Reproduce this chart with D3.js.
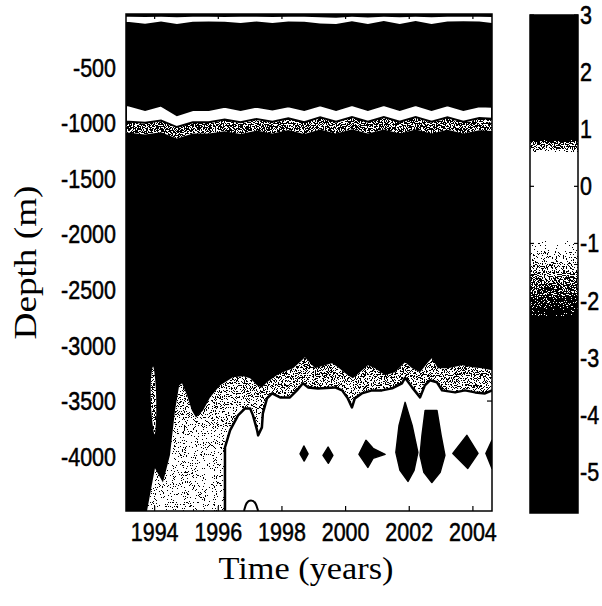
<!DOCTYPE html>
<html>
<head>
<meta charset="utf-8">
<script src="https://cdn.jsdelivr.net/npm/d3@7"></script>
<style>
  body { margin: 0; background: #fff; }
  svg { display: block; }
</style>
</head>
<body>
<svg id="chart" width="602" height="606"></svg>
<script>

// axes
var timeDomain = [1993.1, 2004.6];
var depthDomain = [-15, -4490];
var yearTicks = [1994, 1996, 1998, 2000, 2002, 2004];
var depthTicks = [-500, -1000, -1500, -2000, -2500, -3000, -3500, -4000];
var cbDomain = [3, -5.72];
var cbTicks = [3, 2, 1, 0, -1, -2, -3, -4, -5];

// colour bar shades (value -> grey)
var cbStopValue = [3, 0.82, 0.76, 0.64, 0.58, -0.85, -1.0, -1.35, -1.65, -1.95, -2.3, -5.72];
var cbStopShade = ['#000', '#000', '#6a6a6a', '#8a8a8a', '#fff', '#fff', '#dedede', '#a4a4a4', '#6c6c6c', '#383838', '#000', '#000'];

// upper zero-crossing bands, sampled in time
var bandTime = [1993.1, 1993.2, 1993.7, 1994.2, 1994.7, 1995.2, 1995.7, 1996.2, 1996.7, 1997.2, 1997.7, 1998.2, 1998.7,
                1999.2, 1999.7, 2000.2, 2000.7, 2001.2, 2001.7, 2002.2, 2002.7, 2003.2, 2003.7, 2004.2, 2004.6];
var surfTop    = [-40, -40, -42, -40, -44, -40, -40, -42, -40, -40, -42, -40, -40, -45, -48, -40, -46, -40, -44, -40, -45, -40, -40, -40, -42];
var surfBottom = [-87, -87, -103, -82, -105, -84, -83, -85, -97, -83, -97, -83, -84, -100, -104, -80, -104, -78, -104, -78, -104, -82, -80, -82, -96];
var midTop     = [-835, -840, -880, -840, -925, -880, -880, -850, -880, -850, -875, -845, -880, -838, -880, -835, -880, -835, -880, -835, -880, -838, -878, -845, -850];
var midBottom  = [-985, -985, -995, -975, -1033, -990, -990, -965, -990, -960, -985, -955, -990, -945, -985, -942, -985, -942, -985, -942, -985, -945, -985, -952, -958];
var midGray    = [-1085, -1085, -1100, -1080, -1135, -1090, -1090, -1070, -1095, -1065, -1090, -1060, -1095, -1055, -1090, -1052, -1092, -1055, -1090, -1055, -1092, -1058, -1090, -1062, -1068];

// deep water: top of the grey zone
var grayEdgeTime  = [1993.76, 1994.01, 1994.26, 1994.48, 1994.64, 1994.77, 1994.86, 1995.02, 1995.17, 1995.30, 1995.52, 1995.74,
                     1996.05, 1996.46, 1996.78, 1997.0, 1997.22, 1997.37, 1997.53, 1997.84, 1998.03, 1998.35, 1998.63, 1998.72,
                     1999.04, 1999.35, 1999.57, 1999.76, 2000.07, 2000.23, 2000.45, 2000.70, 2000.92, 2001.24, 2001.55, 2001.87,
                     2002.09, 2002.34, 2002.59, 2002.71, 2002.90, 2003.22, 2003.66, 2003.97, 2004.28, 2004.6];
var grayEdgeDepth = [-4490, -4106, -4233, -3989, -3584, -3359, -3340, -3449, -3584, -3647, -3584, -3467,
                     -3359, -3286, -3277, -3295, -3359, -3377, -3331, -3268, -3241, -3205, -3133, -3106,
                     -3205, -3178, -3160, -3196, -3268, -3295, -3241, -3178, -3205, -3268, -3241, -3151,
                     -3205, -3241, -3151, -3115, -3205, -3205, -3178, -3196, -3205, -3223];

// deep water: contour round the near-zero zone
var whiteEdgeTime  = [1996.21, 1996.21, 1996.37, 1996.62, 1996.84, 1997.0, 1997.09, 1997.22, 1997.25, 1997.37, 1997.40, 1997.53,
                      1997.69, 1997.94, 1998.25, 1998.47, 1998.66, 1998.82, 1999.13, 1999.67, 1999.89, 2000.07, 2000.20, 2000.29,
                      2000.51, 2000.83, 2001.14, 2001.46, 2001.77, 2001.87, 2002.09, 2002.34, 2002.49, 2002.65, 2002.87, 2003.03,
                      2003.44, 2003.75, 2004.07, 2004.38, 2004.6];
var whiteEdgeDepth = [-4490, -3917, -3764, -3629, -3566, -3566, -3629, -3764, -3809, -3737, -3611, -3476,
                      -3431, -3467, -3467, -3404, -3340, -3377, -3386, -3377, -3404, -3476, -3557, -3476,
                      -3431, -3404, -3404, -3386, -3340, -3290, -3377, -3467, -3359, -3313, -3331, -3404,
                      -3422, -3404, -3422, -3431, -3404];

// thin grey streak near 1994
var streakTime  = [1993.95, 1994.03, 1994.05, 1994.0, 1993.9, 1993.88];
var streakDepth = [-3190, -3350, -3600, -3800, -3600, -3350];

// dark cores inside the near-zero zone
var blobTime = [
  [1998.57, 1998.69, 1998.82, 1998.70],
  [1999.29, 1999.45, 1999.60, 1999.46],
  [2000.42, 2000.64, 2000.86, 2001.24, 2000.86, 2000.70],
  [2001.87, 2002.09, 2002.27, 2002.15, 2001.96, 2001.71, 2001.58, 2001.68],
  [2002.50, 2002.87, 2003.0, 2003.12, 2002.97, 2002.71, 2002.46, 2002.34, 2002.40],
  [2003.81, 2004.16, 2003.84, 2003.37],
  [2004.6, 2004.79, 2004.6, 2004.41]
];
var blobDepth = [
  [-3975, -3905, -3975, -4040],
  [-3989, -3915, -3989, -4060],
  [-3980, -3854, -3926, -3980, -4016, -4097],
  [-3512, -3719, -3962, -4124, -4223, -4124, -3962, -3719],
  [-3584, -3584, -3809, -3989, -4142, -4233, -4142, -3989, -3809],
  [-3809, -3971, -4106, -3971],
  [-3854, -3971, -4106, -3971]
];
var arcTime  = [1996.81, 1996.87, 1997.03, 1997.18, 1997.25];
var arcDepth = [-4490, -4413, -4386, -4413, -4490];


var svg = d3.select('#chart');
var plot = {left: 126, right: 492, top: 14, bottom: 511};
var bar = {left: 530, right: 578, top: 15, bottom: 513};

var x = d3.scaleLinear().domain(timeDomain).range([plot.left, plot.right]);
var y = d3.scaleLinear().domain(depthDomain).range([plot.top, plot.bottom]);
var cb = d3.scaleLinear().domain(cbDomain).range([bar.top, bar.bottom]);

var tickFont = '"Liberation Sans", Arial, sans-serif';
var titleFont = '"Liberation Serif", "Times New Roman", serif';
var narrow = 0.86;   // tick labels are a narrow face

var defs = svg.append('defs');

defs.append('clipPath').attr('id', 'plotClip')
    .append('rect')
    .attr('x', plot.left).attr('y', plot.top)
    .attr('width', plot.right - plot.left).attr('height', plot.bottom - plot.top);

// halftone look of the scanned grey levels
var f = defs.append('filter').attr('id', 'stipple')
    .attr('filterUnits', 'userSpaceOnUse')
    .attr('x', 0).attr('y', 0).attr('width', 602).attr('height', 606)
    .attr('color-interpolation-filters', 'sRGB');
f.append('feTurbulence').attr('type', 'fractalNoise').attr('baseFrequency', 0.9)
    .attr('numOctaves', 2).attr('seed', 7).attr('result', 'n');
f.append('feColorMatrix').attr('in', 'n').attr('type', 'matrix')
    .attr('values', '2.6 0 0 0 -0.8  2.6 0 0 0 -0.8  2.6 0 0 0 -0.8  0 0 0 0 1')
    .attr('result', 'm0');
var squeeze = f.append('feComponentTransfer').attr('in', 'm0').attr('result', 'm');
['feFuncR', 'feFuncG', 'feFuncB'].forEach(function(fn){
    squeeze.append(fn).attr('type', 'linear').attr('slope', 0.88).attr('intercept', 0.07);
});
f.append('feComposite').attr('in', 'SourceGraphic').attr('in2', 'm')
    .attr('operator', 'arithmetic').attr('k1', 0).attr('k2', 1).attr('k3', -1).attr('k4', 1)
    .attr('result', 'd');
var ct = f.append('feComponentTransfer').attr('in', 'd');
var table = d3.range(20).map(function(i){ return i < 19 ? 0 : 1; }).join(' ');
['feFuncR', 'feFuncG', 'feFuncB'].forEach(function(fn){
    ct.append(fn).attr('type', 'discrete').attr('tableValues', table);
});

var deepGrad = defs.append('linearGradient').attr('id', 'deepShade')
    .attr('gradientUnits', 'userSpaceOnUse')
    .attr('x1', 0).attr('x2', 0).attr('y1', y(-3150)).attr('y2', y(-3850));
deepGrad.append('stop').attr('offset', 0).attr('stop-color', '#7c7c7c');
deepGrad.append('stop').attr('offset', 1).attr('stop-color', '#c8c8c8');

var cbGrad = defs.append('linearGradient').attr('id', 'cbShade')
    .attr('gradientUnits', 'userSpaceOnUse')
    .attr('x1', 0).attr('x2', 0).attr('y1', cb(cbDomain[0])).attr('y2', cb(cbDomain[1]));
cbGrad.selectAll('stop')
    .data(cbStopValue).enter()
    .append('stop')
    .attr('offset', function(v){ return (cb(v) - cb(cbDomain[0])) / (cb(cbDomain[1]) - cb(cbDomain[0])); })
    .attr('stop-color', function(v, i){ return cbStopShade[i]; });

function pts(ts, ds) {
    return ts.map(function(t, i){ return [x(t), y(ds[i])]; });
}
var line = d3.line();
function poly(p) { return line(p) + 'Z'; }

// ---- field
var field = svg.append('g').attr('clip-path', 'url(#plotClip)');

field.append('rect')
    .attr('x', plot.left).attr('y', plot.top)
    .attr('width', plot.right - plot.left).attr('height', plot.bottom - plot.top)
    .attr('fill', '#000');

var greys = field.append('g').attr('filter', 'url(#stipple)');

var bandArea = function(lo, hi) {
    return d3.area()
        .x(function(d, i){ return x(bandTime[i]); })
        .y0(function(d, i){ return y(lo[i]); })
        .y1(function(d, i){ return y(hi[i]); })(bandTime);
};

greys.append('path')
    .attr('d', bandArea(midGray, midBottom))
    .attr('fill', '#6a6a6a');

var deep = pts(grayEdgeTime, grayEdgeDepth);
deep.push([plot.right + 4, y(grayEdgeDepth[grayEdgeDepth.length - 1])]);
deep.push([plot.right + 4, plot.bottom + 4]);
deep.push([x(grayEdgeTime[0]), plot.bottom + 4]);
greys.append('path')
    .attr('d', poly(deep))
    .attr('fill', 'url(#deepShade)');

greys.append('path')
    .attr('d', d3.line().curve(d3.curveCardinalClosed)(pts(streakTime, streakDepth)))
    .attr('fill', '#8a8a8a');

field.append('path')
    .attr('d', bandArea(surfBottom, surfTop))
    .attr('fill', '#fff');

field.append('path')
    .attr('d', bandArea(midBottom, midTop))
    .attr('fill', '#fff')
    .attr('stroke', '#000')
    .attr('stroke-width', 2);

var white = pts(whiteEdgeTime, whiteEdgeDepth);
white.push([plot.right + 4, y(whiteEdgeDepth[whiteEdgeDepth.length - 1])]);
white.push([plot.right + 4, plot.bottom + 4]);
white[0][1] = plot.bottom + 4;
field.append('path')
    .attr('d', poly(white))
    .attr('fill', '#fff')
    .attr('stroke', '#000')
    .attr('stroke-width', 2.5)
    .attr('stroke-linejoin', 'round');

field.selectAll('.blob')
    .data(blobTime).enter()
    .append('path')
    .attr('class', 'blob')
    .attr('d', function(ts, k){ return poly(pts(ts, blobDepth[k])); })
    .attr('fill', '#000')
    .attr('stroke', '#000')
    .attr('stroke-width', 1.5)
    .attr('stroke-linejoin', 'round');

field.append('path')
    .attr('d', d3.line().curve(d3.curveBasis)(pts(arcTime, arcDepth)))
    .attr('fill', '#fff')
    .attr('stroke', '#000')
    .attr('stroke-width', 2);

// ---- axes (inward ticks, box)
var axes = svg.append('g').attr('stroke', '#000').attr('stroke-width', 1.2);
yearTicks.forEach(function(t){
    axes.append('line').attr('x1', x(t)).attr('x2', x(t)).attr('y1', plot.bottom).attr('y2', plot.bottom - 5);
    axes.append('line').attr('x1', x(t)).attr('x2', x(t)).attr('y1', plot.top).attr('y2', plot.top + 5);
});
depthTicks.forEach(function(d){
    axes.append('line').attr('x1', plot.left).attr('x2', plot.left + 5).attr('y1', y(d)).attr('y2', y(d));
    axes.append('line').attr('x1', plot.right).attr('x2', plot.right - 5).attr('y1', y(d)).attr('y2', y(d));
});
svg.append('rect')
    .attr('x', plot.left).attr('y', plot.top)
    .attr('width', plot.right - plot.left).attr('height', plot.bottom - plot.top)
    .attr('fill', 'none').attr('stroke', '#000').attr('stroke-width', 1.5);

// tick label styling (scan makes the face look heavy)
function tickStyle(sel) {
    sel.style('font-family', tickFont).style('font-size', '25px')
       .style('stroke', '#000').style('stroke-width', '0.5px');
}

svg.append('g').selectAll('text')
    .data(yearTicks).enter()
    .append('text')
    .attr('transform', function(t){ return 'translate(' + x(t) + ',541) scale(' + narrow + ',1)'; })
    .attr('text-anchor', 'middle')
    .call(tickStyle)
    .text(function(t){ return t; });

svg.append('g').selectAll('text')
    .data(depthTicks).enter()
    .append('text')
    .attr('transform', function(d){ return 'translate(116,' + (y(d) + 9) + ') scale(' + narrow + ',1)'; })
    .attr('text-anchor', 'end')
    .call(tickStyle)
    .text(function(d){ return d; });

svg.append('text')
    .attr('transform', 'translate(36,' + ((plot.top + plot.bottom) / 2) + ') rotate(-90)')
    .attr('text-anchor', 'middle')
    .attr('textLength', 154).attr('lengthAdjust', 'spacingAndGlyphs')
    .style('font-family', titleFont).style('font-size', '32px')
    .text('Depth (m)');

svg.append('text')
    .attr('x', 306).attr('y', 579)
    .attr('text-anchor', 'middle')
    .attr('textLength', 175).attr('lengthAdjust', 'spacingAndGlyphs')
    .style('font-family', titleFont).style('font-size', '32px')
    .text('Time (years)');

// ---- colour bar
svg.append('rect')
    .attr('x', bar.left).attr('y', bar.top)
    .attr('width', bar.right - bar.left).attr('height', bar.bottom - bar.top)
    .attr('fill', 'url(#cbShade)')
    .attr('filter', 'url(#stipple)');

var cbAxis = svg.append('g').attr('stroke', '#000').attr('stroke-width', 1.2);
cbTicks.forEach(function(v){
    cbAxis.append('line').attr('x1', bar.left).attr('x2', bar.left + 4).attr('y1', cb(v)).attr('y2', cb(v));
    cbAxis.append('line').attr('x1', bar.right).attr('x2', bar.right - 4).attr('y1', cb(v)).attr('y2', cb(v));
});
svg.append('rect')
    .attr('x', bar.left).attr('y', bar.top)
    .attr('width', bar.right - bar.left).attr('height', bar.bottom - bar.top)
    .attr('fill', 'none').attr('stroke', '#000').attr('stroke-width', 1.5);

svg.append('g').selectAll('text')
    .data(cbTicks).enter()
    .append('text')
    .attr('transform', function(v){ return 'translate(580,' + (cb(v) + 9) + ') scale(' + narrow + ',1)'; })
    .call(tickStyle)
    .text(function(v){ return v; });

</script>
</body>
</html>
